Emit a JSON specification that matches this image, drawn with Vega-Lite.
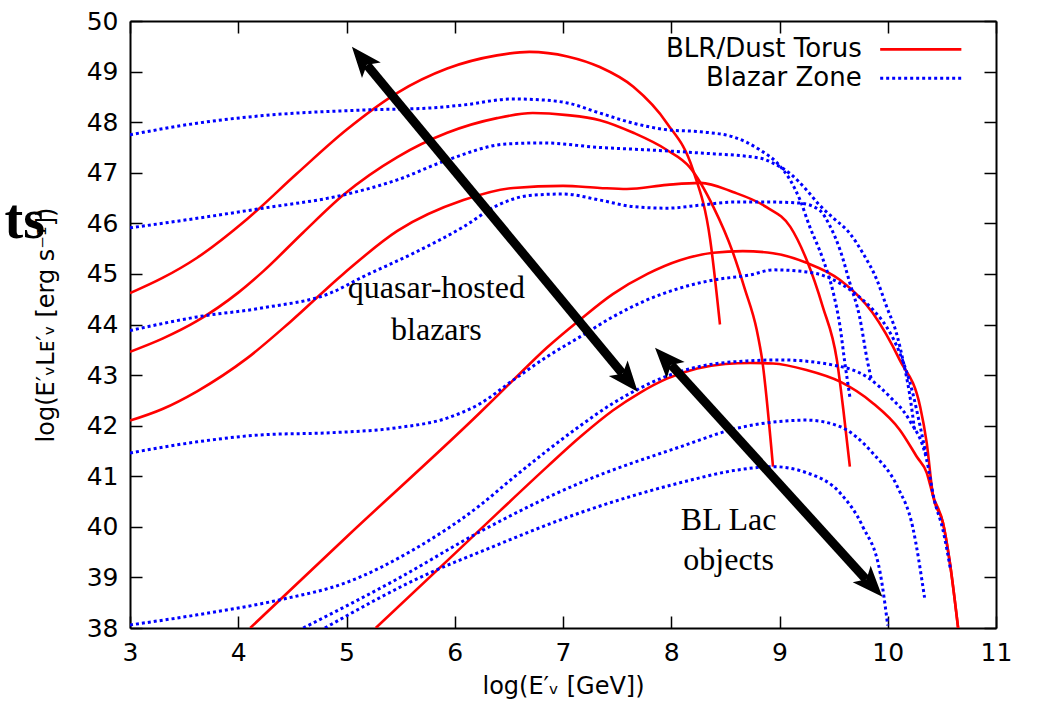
{
  "$schema": "https://vega.github.io/schema/vega-lite/v6.json",
  "width": 866,
  "height": 607,
  "autosize": {"type": "none"},
  "padding": {"left": 130, "top": 21, "right": 42, "bottom": 80},
  "background": "white",
  "config": {
    "view": {"stroke": null},
    "font": "DejaVu Sans",
    "axis": {"grid": false, "labelFlush": false, "labelOverlap": false, "domainColor": "black", "domainWidth": 2, "tickColor": "black", "tickWidth": 1.5, "tickSize": -12, "labelColor": "black", "labelFont": "DejaVu Sans", "labelFontSize": 25, "titleFont": "DejaVu Sans", "titleFontSize": 24, "titleFontWeight": "normal", "titleColor": "black"}
  },
  "datasets": {
    "curves": [
      {"series": "R1", "type": "BLR", "x": 3, "y": 44.62}, {"series": "R1", "type": "BLR", "x": 3.3, "y": 44.92}, {"series": "R1", "type": "BLR", "x": 3.62, "y": 45.32}, {"series": "R1", "type": "BLR", "x": 4.08, "y": 46.08}, {"series": "R1", "type": "BLR", "x": 4.54, "y": 46.98}, {"series": "R1", "type": "BLR", "x": 5.0, "y": 47.85}, {"series": "R1", "type": "BLR", "x": 5.47, "y": 48.58}, {"series": "R1", "type": "BLR", "x": 5.93, "y": 49.06}, {"series": "R1", "type": "BLR", "x": 6.39, "y": 49.32}, {"series": "R1", "type": "BLR", "x": 6.69, "y": 49.39}, {"series": "R1", "type": "BLR", "x": 7.04, "y": 49.3}, {"series": "R1", "type": "BLR", "x": 7.34, "y": 49.09}, {"series": "R1", "type": "BLR", "x": 7.65, "y": 48.7}, {"series": "R1", "type": "BLR", "x": 7.96, "y": 47.98}, {"series": "R1", "type": "BLR", "x": 8.2, "y": 47.06}, {"series": "R1", "type": "BLR", "x": 8.36, "y": 45.67}, {"series": "R1", "type": "BLR", "x": 8.45, "y": 44.0},

      {"series": "R2", "type": "BLR", "x": 3, "y": 43.46}, {"series": "R2", "type": "BLR", "x": 3.3, "y": 43.72}, {"series": "R2", "type": "BLR", "x": 3.62, "y": 44.07}, {"series": "R2", "type": "BLR", "x": 4.0, "y": 44.63}, {"series": "R2", "type": "BLR", "x": 4.23, "y": 45.05}, {"series": "R2", "type": "BLR", "x": 4.6, "y": 45.82}, {"series": "R2", "type": "BLR", "x": 4.97, "y": 46.56}, {"series": "R2", "type": "BLR", "x": 5.47, "y": 47.31}, {"series": "R2", "type": "BLR", "x": 5.93, "y": 47.79}, {"series": "R2", "type": "BLR", "x": 6.39, "y": 48.08}, {"series": "R2", "type": "BLR", "x": 6.72, "y": 48.18}, {"series": "R2", "type": "BLR", "x": 7.04, "y": 48.14}, {"series": "R2", "type": "BLR", "x": 7.34, "y": 48.04}, {"series": "R2", "type": "BLR", "x": 7.65, "y": 47.79}, {"series": "R2", "type": "BLR", "x": 7.96, "y": 47.45}, {"series": "R2", "type": "BLR", "x": 8.17, "y": 47.11}, {"series": "R2", "type": "BLR", "x": 8.39, "y": 46.32}, {"series": "R2", "type": "BLR", "x": 8.57, "y": 45.42}, {"series": "R2", "type": "BLR", "x": 8.68, "y": 44.7}, {"series": "R2", "type": "BLR", "x": 8.79, "y": 43.89}, {"series": "R2", "type": "BLR", "x": 8.84, "y": 43.3}, {"series": "R2", "type": "BLR", "x": 8.94, "y": 41.19},

      {"series": "R3", "type": "BLR", "x": 3, "y": 42.1}, {"series": "R3", "type": "BLR", "x": 3.3, "y": 42.33}, {"series": "R3", "type": "BLR", "x": 3.62, "y": 42.68}, {"series": "R3", "type": "BLR", "x": 4.08, "y": 43.33}, {"series": "R3", "type": "BLR", "x": 4.48, "y": 44.05}, {"series": "R3", "type": "BLR", "x": 4.97, "y": 45.0}, {"series": "R3", "type": "BLR", "x": 5.47, "y": 45.85}, {"series": "R3", "type": "BLR", "x": 6.08, "y": 46.46}, {"series": "R3", "type": "BLR", "x": 6.54, "y": 46.7}, {"series": "R3", "type": "BLR", "x": 7.0, "y": 46.74}, {"series": "R3", "type": "BLR", "x": 7.34, "y": 46.7}, {"series": "R3", "type": "BLR", "x": 7.59, "y": 46.68}, {"series": "R3", "type": "BLR", "x": 7.96, "y": 46.76}, {"series": "R3", "type": "BLR", "x": 8.27, "y": 46.8}, {"series": "R3", "type": "BLR", "x": 8.57, "y": 46.62}, {"series": "R3", "type": "BLR", "x": 8.88, "y": 46.32}, {"series": "R3", "type": "BLR", "x": 9.1, "y": 45.93}, {"series": "R3", "type": "BLR", "x": 9.25, "y": 45.28}, {"series": "R3", "type": "BLR", "x": 9.4, "y": 44.35}, {"series": "R3", "type": "BLR", "x": 9.53, "y": 43.3}, {"series": "R3", "type": "BLR", "x": 9.59, "y": 42.31}, {"series": "R3", "type": "BLR", "x": 9.65, "y": 41.19},

      {"series": "R4", "type": "BLR", "x": 4.11, "y": 38.0}, {"series": "R4", "type": "BLR", "x": 5.0, "y": 39.8}, {"series": "R4", "type": "BLR", "x": 6.23, "y": 42.25}, {"series": "R4", "type": "BLR", "x": 6.54, "y": 42.9}, {"series": "R4", "type": "BLR", "x": 6.85, "y": 43.54}, {"series": "R4", "type": "BLR", "x": 7.16, "y": 44.1}, {"series": "R4", "type": "BLR", "x": 7.46, "y": 44.6}, {"series": "R4", "type": "BLR", "x": 7.78, "y": 45.0}, {"series": "R4", "type": "BLR", "x": 8.08, "y": 45.27}, {"series": "R4", "type": "BLR", "x": 8.39, "y": 45.42}, {"series": "R4", "type": "BLR", "x": 8.66, "y": 45.45}, {"series": "R4", "type": "BLR", "x": 8.94, "y": 45.41}, {"series": "R4", "type": "BLR", "x": 9.25, "y": 45.22}, {"series": "R4", "type": "BLR", "x": 9.56, "y": 44.88}, {"series": "R4", "type": "BLR", "x": 9.86, "y": 44.23}, {"series": "R4", "type": "BLR", "x": 10.11, "y": 43.3}, {"series": "R4", "type": "BLR", "x": 10.3, "y": 42.37}, {"series": "R4", "type": "BLR", "x": 10.36, "y": 41.66}, {"series": "R4", "type": "BLR", "x": 10.42, "y": 40.6}, {"series": "R4", "type": "BLR", "x": 10.51, "y": 40.08}, {"series": "R4", "type": "BLR", "x": 10.57, "y": 39.35}, {"series": "R4", "type": "BLR", "x": 10.65, "y": 38.0},

      {"series": "R5", "type": "BLR", "x": 5.27, "y": 38.0}, {"series": "R5", "type": "BLR", "x": 6.0, "y": 39.47}, {"series": "R5", "type": "BLR", "x": 6.42, "y": 40.32}, {"series": "R5", "type": "BLR", "x": 6.85, "y": 41.18}, {"series": "R5", "type": "BLR", "x": 7.16, "y": 41.78}, {"series": "R5", "type": "BLR", "x": 7.46, "y": 42.3}, {"series": "R5", "type": "BLR", "x": 7.71, "y": 42.65}, {"series": "R5", "type": "BLR", "x": 7.96, "y": 42.93}, {"series": "R5", "type": "BLR", "x": 8.24, "y": 43.13}, {"series": "R5", "type": "BLR", "x": 8.5, "y": 43.22}, {"series": "R5", "type": "BLR", "x": 8.73, "y": 43.24}, {"series": "R5", "type": "BLR", "x": 8.94, "y": 43.23}, {"series": "R5", "type": "BLR", "x": 9.25, "y": 43.1}, {"series": "R5", "type": "BLR", "x": 9.56, "y": 42.87}, {"series": "R5", "type": "BLR", "x": 9.86, "y": 42.45}, {"series": "R5", "type": "BLR", "x": 10.11, "y": 41.92}, {"series": "R5", "type": "BLR", "x": 10.27, "y": 41.38}, {"series": "R5", "type": "BLR", "x": 10.36, "y": 41.07}, {"series": "R5", "type": "BLR", "x": 10.42, "y": 40.6}, {"series": "R5", "type": "BLR", "x": 10.51, "y": 40.08}, {"series": "R5", "type": "BLR", "x": 10.57, "y": 39.35}, {"series": "R5", "type": "BLR", "x": 10.65, "y": 38.0},

      {"series": "B1", "type": "Blazar", "x": 3, "y": 47.75}, {"series": "B1", "type": "Blazar", "x": 3.62, "y": 47.98}, {"series": "B1", "type": "Blazar", "x": 4.23, "y": 48.13}, {"series": "B1", "type": "Blazar", "x": 5.15, "y": 48.24}, {"series": "B1", "type": "Blazar", "x": 5.77, "y": 48.28}, {"series": "B1", "type": "Blazar", "x": 6.08, "y": 48.34}, {"series": "B1", "type": "Blazar", "x": 6.54, "y": 48.46}, {"series": "B1", "type": "Blazar", "x": 6.72, "y": 48.45}, {"series": "B1", "type": "Blazar", "x": 7.04, "y": 48.38}, {"series": "B1", "type": "Blazar", "x": 7.34, "y": 48.18}, {"series": "B1", "type": "Blazar", "x": 7.65, "y": 47.98}, {"series": "B1", "type": "Blazar", "x": 7.96, "y": 47.85}, {"series": "B1", "type": "Blazar", "x": 8.27, "y": 47.81}, {"series": "B1", "type": "Blazar", "x": 8.57, "y": 47.71}, {"series": "B1", "type": "Blazar", "x": 8.82, "y": 47.45}, {"series": "B1", "type": "Blazar", "x": 8.98, "y": 47.19}, {"series": "B1", "type": "Blazar", "x": 9.1, "y": 46.85}, {"series": "B1", "type": "Blazar", "x": 9.19, "y": 46.46}, {"series": "B1", "type": "Blazar", "x": 9.28, "y": 45.93}, {"series": "B1", "type": "Blazar", "x": 9.4, "y": 45.3}, {"series": "B1", "type": "Blazar", "x": 9.5, "y": 44.6}, {"series": "B1", "type": "Blazar", "x": 9.56, "y": 43.95}, {"series": "B1", "type": "Blazar", "x": 9.6, "y": 43.3}, {"series": "B1", "type": "Blazar", "x": 9.65, "y": 42.57},

      {"series": "B2", "type": "Blazar", "x": 3, "y": 45.91}, {"series": "B2", "type": "Blazar", "x": 3.62, "y": 46.1}, {"series": "B2", "type": "Blazar", "x": 4.23, "y": 46.3}, {"series": "B2", "type": "Blazar", "x": 4.97, "y": 46.56}, {"series": "B2", "type": "Blazar", "x": 5.47, "y": 46.86}, {"series": "B2", "type": "Blazar", "x": 5.93, "y": 47.25}, {"series": "B2", "type": "Blazar", "x": 6.48, "y": 47.57}, {"series": "B2", "type": "Blazar", "x": 6.81, "y": 47.59}, {"series": "B2", "type": "Blazar", "x": 7.34, "y": 47.5}, {"series": "B2", "type": "Blazar", "x": 7.8, "y": 47.45}, {"series": "B2", "type": "Blazar", "x": 8.27, "y": 47.39}, {"series": "B2", "type": "Blazar", "x": 8.82, "y": 47.29}, {"series": "B2", "type": "Blazar", "x": 8.94, "y": 47.19}, {"series": "B2", "type": "Blazar", "x": 9.1, "y": 46.98}, {"series": "B2", "type": "Blazar", "x": 9.25, "y": 46.66}, {"series": "B2", "type": "Blazar", "x": 9.37, "y": 46.36}, {"series": "B2", "type": "Blazar", "x": 9.5, "y": 46.1}, {"series": "B2", "type": "Blazar", "x": 9.65, "y": 45.8}, {"series": "B2", "type": "Blazar", "x": 9.77, "y": 45.41}, {"series": "B2", "type": "Blazar", "x": 9.9, "y": 44.88}, {"series": "B2", "type": "Blazar", "x": 9.99, "y": 44.35}, {"series": "B2", "type": "Blazar", "x": 10.08, "y": 43.83}, {"series": "B2", "type": "Blazar", "x": 10.14, "y": 43.3}, {"series": "B2", "type": "Blazar", "x": 10.2, "y": 42.65}, {"series": "B2", "type": "Blazar", "x": 10.25, "y": 41.88},

      {"series": "B3", "type": "Blazar", "x": 3, "y": 43.88}, {"series": "B3", "type": "Blazar", "x": 3.62, "y": 44.15}, {"series": "B3", "type": "Blazar", "x": 4.23, "y": 44.33}, {"series": "B3", "type": "Blazar", "x": 4.85, "y": 44.62}, {"series": "B3", "type": "Blazar", "x": 5.15, "y": 44.94}, {"series": "B3", "type": "Blazar", "x": 5.62, "y": 45.41}, {"series": "B3", "type": "Blazar", "x": 6.08, "y": 45.93}, {"series": "B3", "type": "Blazar", "x": 6.39, "y": 46.35}, {"series": "B3", "type": "Blazar", "x": 6.69, "y": 46.55}, {"series": "B3", "type": "Blazar", "x": 7.0, "y": 46.58}, {"series": "B3", "type": "Blazar", "x": 7.34, "y": 46.46}, {"series": "B3", "type": "Blazar", "x": 7.65, "y": 46.33}, {"series": "B3", "type": "Blazar", "x": 7.96, "y": 46.3}, {"series": "B3", "type": "Blazar", "x": 8.27, "y": 46.36}, {"series": "B3", "type": "Blazar", "x": 8.57, "y": 46.42}, {"series": "B3", "type": "Blazar", "x": 8.94, "y": 46.42}, {"series": "B3", "type": "Blazar", "x": 9.19, "y": 46.4}, {"series": "B3", "type": "Blazar", "x": 9.37, "y": 46.26}, {"series": "B3", "type": "Blazar", "x": 9.47, "y": 45.93}, {"series": "B3", "type": "Blazar", "x": 9.56, "y": 45.47}, {"series": "B3", "type": "Blazar", "x": 9.65, "y": 44.82}, {"series": "B3", "type": "Blazar", "x": 9.74, "y": 44.15}, {"series": "B3", "type": "Blazar", "x": 9.81, "y": 43.3}, {"series": "B3", "type": "Blazar", "x": 9.85, "y": 42.9},

      {"series": "B4", "type": "Blazar", "x": 3, "y": 41.46}, {"series": "B4", "type": "Blazar", "x": 3.62, "y": 41.68}, {"series": "B4", "type": "Blazar", "x": 4.23, "y": 41.82}, {"series": "B4", "type": "Blazar", "x": 4.85, "y": 41.86}, {"series": "B4", "type": "Blazar", "x": 5.47, "y": 41.96}, {"series": "B4", "type": "Blazar", "x": 5.93, "y": 42.15}, {"series": "B4", "type": "Blazar", "x": 6.23, "y": 42.43}, {"series": "B4", "type": "Blazar", "x": 6.54, "y": 42.9}, {"series": "B4", "type": "Blazar", "x": 6.85, "y": 43.36}, {"series": "B4", "type": "Blazar", "x": 7.16, "y": 43.76}, {"series": "B4", "type": "Blazar", "x": 7.46, "y": 44.15}, {"series": "B4", "type": "Blazar", "x": 7.78, "y": 44.49}, {"series": "B4", "type": "Blazar", "x": 8.08, "y": 44.72}, {"series": "B4", "type": "Blazar", "x": 8.39, "y": 44.88}, {"series": "B4", "type": "Blazar", "x": 8.73, "y": 44.98}, {"series": "B4", "type": "Blazar", "x": 8.94, "y": 45.08}, {"series": "B4", "type": "Blazar", "x": 9.25, "y": 45.04}, {"series": "B4", "type": "Blazar", "x": 9.44, "y": 44.94}, {"series": "B4", "type": "Blazar", "x": 9.68, "y": 44.64}, {"series": "B4", "type": "Blazar", "x": 9.86, "y": 44.3}, {"series": "B4", "type": "Blazar", "x": 9.99, "y": 43.95}, {"series": "B4", "type": "Blazar", "x": 10.11, "y": 43.44}, {"series": "B4", "type": "Blazar", "x": 10.23, "y": 42.65}, {"series": "B4", "type": "Blazar", "x": 10.3, "y": 41.98}, {"series": "B4", "type": "Blazar", "x": 10.36, "y": 41.36},

      {"series": "B5", "type": "Blazar", "x": 3, "y": 38.06}, {"series": "B5", "type": "Blazar", "x": 3.62, "y": 38.26}, {"series": "B5", "type": "Blazar", "x": 4.39, "y": 38.56}, {"series": "B5", "type": "Blazar", "x": 5.0, "y": 38.9}, {"series": "B5", "type": "Blazar", "x": 5.62, "y": 39.55}, {"series": "B5", "type": "Blazar", "x": 6.23, "y": 40.42}, {"series": "B5", "type": "Blazar", "x": 6.54, "y": 40.97}, {"series": "B5", "type": "Blazar", "x": 6.85, "y": 41.5}, {"series": "B5", "type": "Blazar", "x": 7.16, "y": 42.0}, {"series": "B5", "type": "Blazar", "x": 7.46, "y": 42.44}, {"series": "B5", "type": "Blazar", "x": 7.71, "y": 42.74}, {"series": "B5", "type": "Blazar", "x": 7.96, "y": 42.98}, {"series": "B5", "type": "Blazar", "x": 8.24, "y": 43.16}, {"series": "B5", "type": "Blazar", "x": 8.7, "y": 43.28}, {"series": "B5", "type": "Blazar", "x": 9.0, "y": 43.3}, {"series": "B5", "type": "Blazar", "x": 9.49, "y": 43.2}, {"series": "B5", "type": "Blazar", "x": 9.81, "y": 42.96}, {"series": "B5", "type": "Blazar", "x": 10.02, "y": 42.57}, {"series": "B5", "type": "Blazar", "x": 10.2, "y": 42.11}, {"series": "B5", "type": "Blazar", "x": 10.36, "y": 41.32}, {"series": "B5", "type": "Blazar", "x": 10.43, "y": 40.53}, {"series": "B5", "type": "Blazar", "x": 10.51, "y": 39.94}, {"series": "B5", "type": "Blazar", "x": 10.58, "y": 39.15},

      {"series": "B6", "type": "Blazar", "x": 4.6, "y": 38.0}, {"series": "B6", "type": "Blazar", "x": 5.47, "y": 38.97}, {"series": "B6", "type": "Blazar", "x": 6.23, "y": 39.9}, {"series": "B6", "type": "Blazar", "x": 7.16, "y": 40.87}, {"series": "B6", "type": "Blazar", "x": 8.08, "y": 41.58}, {"series": "B6", "type": "Blazar", "x": 8.63, "y": 41.96}, {"series": "B6", "type": "Blazar", "x": 8.94, "y": 42.07}, {"series": "B6", "type": "Blazar", "x": 9.25, "y": 42.11}, {"series": "B6", "type": "Blazar", "x": 9.56, "y": 41.98}, {"series": "B6", "type": "Blazar", "x": 9.86, "y": 41.46}, {"series": "B6", "type": "Blazar", "x": 10.09, "y": 40.79}, {"series": "B6", "type": "Blazar", "x": 10.23, "y": 40.0}, {"series": "B6", "type": "Blazar", "x": 10.34, "y": 38.6},

      {"series": "B7", "type": "Blazar", "x": 4.8, "y": 38.0}, {"series": "B7", "type": "Blazar", "x": 5.77, "y": 39.09}, {"series": "B7", "type": "Blazar", "x": 6.23, "y": 39.5}, {"series": "B7", "type": "Blazar", "x": 7.16, "y": 40.28}, {"series": "B7", "type": "Blazar", "x": 8.08, "y": 40.87}, {"series": "B7", "type": "Blazar", "x": 8.63, "y": 41.13}, {"series": "B7", "type": "Blazar", "x": 8.94, "y": 41.19}, {"series": "B7", "type": "Blazar", "x": 9.25, "y": 41.07}, {"series": "B7", "type": "Blazar", "x": 9.56, "y": 40.67}, {"series": "B7", "type": "Blazar", "x": 9.77, "y": 40.0}, {"series": "B7", "type": "Blazar", "x": 9.93, "y": 39.09}, {"series": "B7", "type": "Blazar", "x": 10.0, "y": 38.05}
    ],
    "shafts": [
      {"arrow": "quasar", "x": 5.19, "y": 49.13}, {"arrow": "quasar", "x": 7.55, "y": 43.03},
      {"arrow": "bllac", "x": 8.0, "y": 43.2}, {"arrow": "bllac", "x": 9.8, "y": 38.96}
    ],
    "heads": [
      {"x": 5.05, "y": 49.49, "angle": 320.4}, {"x": 7.69, "y": 42.67, "angle": 140.4},
      {"x": 7.85, "y": 43.54, "angle": 317.5}, {"x": 9.95, "y": 38.62, "angle": 137.5}
    ],
    "notes": [
      {"text": "quasar-hosted", "x": 5.83, "y": 44.53},
      {"text": "blazars", "x": 5.83, "y": 43.7},
      {"text": "BL Lac", "x": 8.53, "y": 39.94},
      {"text": "objects", "x": 8.53, "y": 39.15}
    ],
    "legend": [
      {"label": "BLR/Dust Torus", "type": "BLR", "tx": 9.76, "x1": 9.93, "x2": 10.68, "y": 49.44},
      {"label": "Blazar Zone", "type": "Blazar", "tx": 9.76, "x1": 9.93, "x2": 10.68, "y": 48.87}
    ],
    "stray": [
      {"text": "ts", "x": 2.215, "y": 45.71}
    ]
  },
  "layer": [
    {
      "layer": [
        {
          "data": {"name": "curves"},
          "transform": [{"filter": "datum.type === 'BLR'"}],
          "mark": {"type": "line", "color": "#ff0000", "strokeWidth": 2.6, "interpolate": "monotone", "clip": true},
          "encoding": {
            "x": {"field": "x", "type": "quantitative", "scale": {"domain": [3, 11], "nice": false, "zero": false},
                  "axis": {"orient": "bottom", "values": [3, 4, 5, 6, 7, 8, 9, 10, 11], "format": "d", "labelPadding": 24, "title": "log(E′ᵥ [GeV])", "titlePadding": 9}},
            "y": {"field": "y", "type": "quantitative", "scale": {"domain": [38, 50], "nice": false, "zero": false},
                  "axis": {"orient": "left", "values": [38, 39, 40, 41, 42, 43, 44, 45, 46, 47, 48, 49, 50], "format": "d", "labelPadding": 24, "title": "log(E′ᵥLᴇ′ᵥ [erg s⁻¹])", "titlePadding": 28}},
            "detail": {"field": "series"}
          }
        },
        {
          "data": {"name": "curves"},
          "transform": [{"filter": "datum.type === 'Blazar'"}],
          "mark": {"type": "line", "color": "#0000ff", "strokeWidth": 3, "strokeDash": [3, 3], "interpolate": "monotone", "clip": true},
          "encoding": {
            "x": {"field": "x", "type": "quantitative"},
            "y": {"field": "y", "type": "quantitative"},
            "detail": {"field": "series"}
          }
        },
        {
          "data": {"name": "shafts"},
          "mark": {"type": "line", "color": "black", "strokeWidth": 9, "strokeCap": "butt"},
          "encoding": {
            "x": {"field": "x", "type": "quantitative"},
            "y": {"field": "y", "type": "quantitative"},
            "detail": {"field": "arrow"}
          }
        },
        {
          "data": {"name": "heads"},
          "mark": {"type": "point", "shape": "M0,0L0.65,1.63L0,1.25L-0.65,1.63Z", "filled": true, "color": "black", "opacity": 1, "size": 1406, "strokeWidth": 0},
          "encoding": {
            "x": {"field": "x", "type": "quantitative"},
            "y": {"field": "y", "type": "quantitative"},
            "angle": {"field": "angle", "type": "quantitative", "scale": null}
          }
        },
        {
          "data": {"name": "notes"},
          "mark": {"type": "text", "font": "Liberation Serif", "fontSize": 32, "color": "black", "align": "center", "baseline": "alphabetic"},
          "encoding": {
            "x": {"field": "x", "type": "quantitative"},
            "y": {"field": "y", "type": "quantitative"},
            "text": {"field": "text"}
          }
        },
        {
          "data": {"name": "legend"},
          "mark": {"type": "text", "font": "DejaVu Sans", "fontSize": 26, "color": "black", "align": "right", "baseline": "middle"},
          "encoding": {
            "x": {"field": "tx", "type": "quantitative"},
            "y": {"field": "y", "type": "quantitative"},
            "text": {"field": "label"}
          }
        },
        {
          "data": {"name": "legend"},
          "transform": [{"filter": "datum.type === 'BLR'"}],
          "mark": {"type": "rule", "color": "#ff0000", "strokeWidth": 2.6},
          "encoding": {
            "x": {"field": "x1", "type": "quantitative"},
            "x2": {"field": "x2"},
            "y": {"field": "y", "type": "quantitative"}
          }
        },
        {
          "data": {"name": "legend"},
          "transform": [{"filter": "datum.type === 'Blazar'"}],
          "mark": {"type": "rule", "color": "#0000ff", "strokeWidth": 3, "strokeDash": [3, 3]},
          "encoding": {
            "x": {"field": "x1", "type": "quantitative"},
            "x2": {"field": "x2"},
            "y": {"field": "y", "type": "quantitative"}
          }
        },
        {
          "data": {"name": "stray"},
          "mark": {"type": "text", "font": "Liberation Serif", "fontSize": 56, "fontWeight": "bold", "color": "black", "align": "right", "baseline": "alphabetic"},
          "encoding": {
            "x": {"field": "x", "type": "quantitative"},
            "y": {"field": "y", "type": "quantitative"},
            "text": {"field": "text"}
          }
        }
      ]
    },
    {
      "data": {"name": "notes"},
      "mark": {"type": "point", "opacity": 0},
      "encoding": {
        "x": {"field": "x", "type": "quantitative", "scale": {"domain": [3, 11], "nice": false, "zero": false},
              "axis": {"orient": "top", "values": [3, 4, 5, 6, 7, 8, 9, 10, 11], "labels": false, "title": null}},
        "y": {"field": "y", "type": "quantitative", "scale": {"domain": [38, 50], "nice": false, "zero": false},
              "axis": {"orient": "right", "values": [38, 39, 40, 41, 42, 43, 44, 45, 46, 47, 48, 49, 50], "labels": false, "title": null}}
      }
    }
  ],
  "resolve": {"scale": {"x": "independent", "y": "independent"}}
}
